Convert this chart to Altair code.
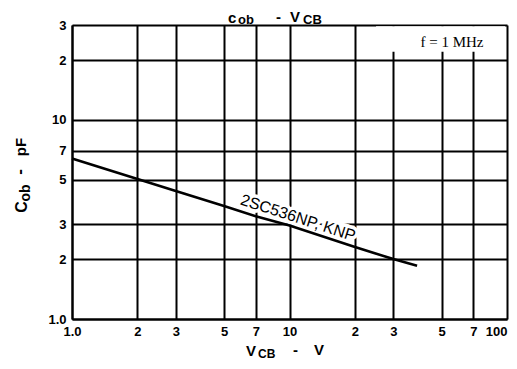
import altair as alt
import pandas as pd

# Data (log-log)
vcb = [1, 2, 3, 5, 7, 10, 20, 30, 38.6]
cob = [6.4, 5.05, 4.4, 3.7, 3.28, 2.95, 2.3, 2.0, 1.85]
x_ticks = [1, 2, 3, 5, 7, 10, 20, 30, 50, 70, 100]
y_ticks = [1, 2, 3, 5, 7, 10, 20, 30]
curve_label = "2SC536NP, KNP"
freq_label = "f = 1 MHz"

df = pd.DataFrame({"vcb": vcb, "cob": cob})

W, H = 435, 294
X0, Y0 = 72, 25  # page position of plot origin

xscale = alt.Scale(type="log", domain=[1, 100], nice=False)
yscale = alt.Scale(type="log", domain=[1, 30], nice=False)

lab_x = ("datum.value == 1 ? '1.0' : (datum.value >= 20 && datum.value < 100 ? "
         "format(datum.value/10, 'd') : format(datum.value, 'd'))")
lab_y = ("datum.value == 1 ? '1.0' : (datum.value >= 20 ? "
         "format(datum.value/10, 'd') : format(datum.value, 'd'))")

axis_common = dict(grid=True, gridColor="black", gridWidth=2, gridOpacity=1,
                   domainColor="black", domainWidth=2, ticks=False,
                   labelFont="Liberation Sans", labelFontWeight="bold",
                   labelFontSize=13, labelColor="black", title=None,
                   labelFlush=False, labelOverlap=False)

line = alt.Chart(df).mark_line(color="black", strokeWidth=2.6).encode(
    x=alt.X("vcb:Q", scale=xscale,
            axis=alt.Axis(values=x_ticks, labelExpr=lab_x, labelPadding=6,
                          labelAlign={"condition": {"test": "datum.value == 100",
                                                    "value": "right"},
                                      "value": "center"},
                          **axis_common)),
    y=alt.Y("cob:Q", scale=yscale,
            axis=alt.Axis(values=y_ticks, labelExpr=lab_y, labelPadding=6,
                          **axis_common)),
)

# white box behind the frequency note
box = alt.Chart(pd.DataFrame({"a": [25], "b": [98], "c": [22], "d": [29.6]})).mark_rect(
    color="white").encode(x="a:Q", x2="b:Q", y="c:Q", y2="d:Q")


def txt(s, px, py, size, angle=0, align="left", baseline="alphabetic",
        font="Liberation Sans", weight="normal", stroke=None):
    kw = dict(fontSize=size, angle=angle, align=align, baseline=baseline,
              font=font, fontWeight=weight, color="black")
    if stroke:
        kw.update(stroke="white", strokeWidth=stroke, color="white")
    return alt.Chart(pd.DataFrame({"t": [s]})).mark_text(**kw).encode(
        text="t:N", x=alt.value(px - X0), y=alt.value(py - Y0))


halo = txt(curve_label, 298, 218, 16, angle=18, align="center",
           baseline="middle", stroke=7)
label = txt(curve_label, 298, 218, 16, angle=18, align="center",
            baseline="middle")
freq = txt(freq_label, 452, 47, 15, align="center", font="Liberation Serif")

title_parts = [
    txt("c", 228, 23, 15, weight="bold"),
    txt("ob", 238, 24, 13, weight="bold"),
    txt("-", 276, 22, 15, weight="bold"),
    txt("V", 290, 22, 15, weight="bold"),
    txt("CB", 303, 24, 13, weight="bold"),
]
xtitle_parts = [
    txt("V", 246, 356, 15, weight="bold"),
    txt("CB", 258, 358, 12, weight="bold"),
    txt("-", 293, 355, 15, weight="bold"),
    txt("V", 314, 355, 15, weight="bold"),
]
ytitle_parts = [
    txt("C", 27, 207, 16, angle=270, align="center", weight="bold"),
    txt("ob", 30, 193, 14, angle=270, align="center", weight="bold"),
    txt("-", 25, 172, 17, angle=270, align="center", weight="bold"),
    txt("pF", 26, 147, 15, angle=270, align="center", weight="bold"),
]

chart = alt.layer(box, halo, line, label, freq, *title_parts, *xtitle_parts,
                  *ytitle_parts).properties(
    width=W, height=H,
    autosize=alt.AutoSizeParams(type="none"),
    padding={"left": X0 - 8, "top": Y0 - 8, "right": 2, "bottom": 42},
).configure_view(stroke=None).configure(background="white")

chart.save("out.html", embed_options={"renderer": "svg", "actions": False})
